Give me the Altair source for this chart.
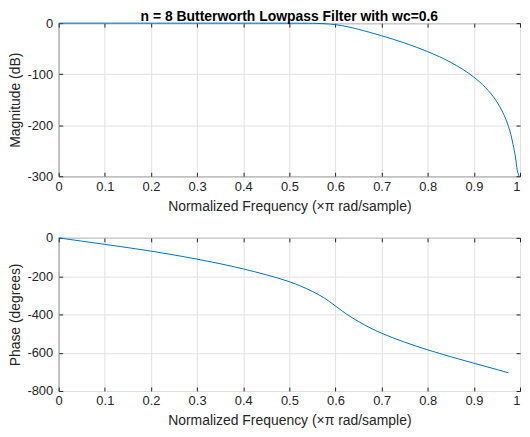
import altair as alt
import pandas as pd

# ---- data ----
freq_mag = [0.0, 0.1, 0.2, 0.3, 0.4, 0.45, 0.5, 0.55, 0.575, 0.6, 0.625, 0.65, 0.675,
            0.7, 0.75, 0.8, 0.85, 0.9, 0.925, 0.95, 0.96, 0.97, 0.98, 0.985, 0.99,
            0.994, 0.998]
mag_db = [0.0, 0.0, 0.0, 0.0, 0.0, 0.0, -0.03, -0.3, -1.0, -3.0, -6.8, -12.1, -18.2,
          -24.7, -39.0, -55.9, -76.9, -105.9, -126.1, -154.4, -170.0, -190.0, -218.0,
          -238.0, -262.0, -288.0, -300.0]

freq_ph = [0.0, 0.05, 0.1, 0.15, 0.2, 0.25, 0.3, 0.35, 0.4, 0.45, 0.5, 0.55, 0.575,
           0.6, 0.625, 0.65, 0.675, 0.7, 0.75, 0.8, 0.85, 0.9, 0.95, 0.975]
phase_deg = [0, -17, -34, -51, -69, -89, -111, -135, -162, -193, -229, -280, -313,
             -356, -400, -437, -470, -498, -545, -585, -621, -655, -688, -705]

x_ticks = [0, 0.1, 0.2, 0.3, 0.4, 0.5, 0.6, 0.7, 0.8, 0.9, 1]
mag_ticks = [-300, -200, -100, 0]
ph_ticks = [-800, -600, -400, -200, 0]

title_text = "n = 8 Butterworth Lowpass Filter with wc=0.6"
x_title = "Normalized Frequency  (\u00d7\u03c0 rad/sample)"
mag_title = "Magnitude (dB)"
ph_title = "Phase (degrees)"

FONT = "Liberation Sans"
LINE = "#0072BD"
AX = "#262626"
GRID = "#e1e1e1"
W, H = 464, 154

df_mag = pd.DataFrame({"f": freq_mag, "v": mag_db})
df_ph = pd.DataFrame({"f": freq_ph, "v": phase_deg})

x_label_align = {"condition": {"test": "datum.value == 1", "value": "right"}, "value": "center"}


def panel(df, ydomain, yticks, ytitle, title=None):
    xs = alt.Scale(domain=[0, 1], nice=False, zero=False)
    ys = alt.Scale(domain=ydomain, nice=False, zero=False)
    main = alt.Chart(df).mark_line(color=LINE, strokeWidth=1, interpolate="monotone").encode(
        x=alt.X("f:Q", scale=xs, axis=alt.Axis(values=x_ticks, labelExpr="datum.value + ''",
                                               title=x_title, orient="bottom", grid=True,
                                               ticks=False, domain=False, labelPadding=4,
                                               titlePadding=6, labelAlign=x_label_align)),
        y=alt.Y("v:Q", scale=ys, axis=alt.Axis(values=yticks, labelExpr="datum.value + ''",
                                               title=ytitle, orient="left", grid=True,
                                               ticks=False, domain=False,
                                               labelPadding=6, titlePadding=4)),
    )

    def ticks(xo, yo):
        return alt.Chart(df).mark_line(opacity=0).encode(
            x=alt.X("f:Q", scale=xs, axis=alt.Axis(values=x_ticks, orient=xo, labels=False,
                                                   title=None, grid=False, domain=False,
                                                   ticks=True, tickSize=4, offset=-4,
                                                   tickColor=AX)),
            y=alt.Y("v:Q", scale=ys, axis=alt.Axis(values=yticks, orient=yo, labels=False,
                                                   title=None, grid=False, domain=False,
                                                   ticks=True, tickSize=4, offset=-4,
                                                   tickColor=AX)),
        )

    props = dict(width=W, height=H)
    if title:
        props["title"] = alt.TitleParams(title, font=FONT, fontSize=14, fontWeight="bold",
                                         color="#000000", offset=-7, anchor="middle")
    return alt.layer(main, ticks("bottom", "left"), ticks("top", "right")).resolve_axis(
        x="independent", y="independent").properties(**props)


top = panel(df_mag, [-300, 0], mag_ticks, mag_title, title_text)
bottom = panel(df_ph, [-800, 0], ph_ticks, ph_title)

chart = alt.vconcat(top, bottom, spacing=17).properties(
    padding={"left": 0, "top": 0, "right": 0, "bottom": 0}
).configure_view(stroke=AX, strokeWidth=1).configure_axis(
    labelFont=FONT, labelFontSize=13, labelColor=AX,
    titleFont=FONT, titleFontSize=14, titleColor=AX, titleFontWeight="normal",
    gridColor=GRID, gridWidth=1,
)

chart.save("out.html", embed_options={"renderer": "svg", "actions": False})
